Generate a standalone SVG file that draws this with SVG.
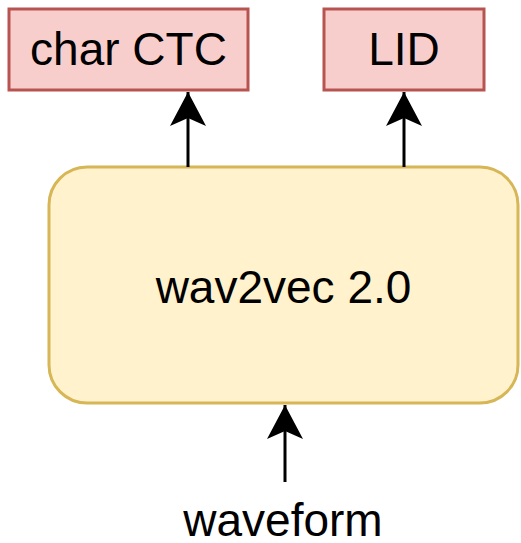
<svg xmlns="http://www.w3.org/2000/svg" width="521" height="543" viewBox="0 0 521 543">
  <style>
    .out rect { fill: #f8cecc; stroke: #b85450; stroke-width: 3; }
    .main rect { fill: #fff2cc; stroke: #d6b656; stroke-width: 3; }
    text { font-family: "Liberation Sans", Arial, Helvetica, sans-serif; font-size: 46px; fill: #000; text-anchor: middle; }
    .edge { stroke: #000; stroke-width: 3; fill: none; marker-end: url(#arrow); }
  </style>
  <defs>
    <marker id="arrow" markerUnits="userSpaceOnUse" viewBox="-36 -20 40 40" markerWidth="40" markerHeight="40" refX="0" refY="0" orient="auto" overflow="visible">
      <path d="M0,0 L-34,-18 L-26,0 L-34,18 Z" fill="#000" stroke="none"/>
    </marker>
  </defs>
  <g id="char-ctc" class="out">
    <rect x="9" y="9" width="239" height="81"/>
    <text x="128.5" y="65">char CTC</text>
  </g>
  <g id="lid" class="out">
    <rect x="324" y="9" width="160" height="81"/>
    <text x="404" y="65">LID</text>
  </g>
  <g id="wav2vec" class="main">
    <rect x="49" y="167" width="469" height="236" rx="38" ry="38"/>
    <text x="283.5" y="303">wav2vec 2.0</text>
  </g>
  <g id="waveform">
    <text x="283" y="536">waveform</text>
  </g>
  <g id="connectors">
    <line class="edge" x1="188" y1="167" x2="188" y2="92"/>
    <line class="edge" x1="404" y1="167" x2="404" y2="92"/>
    <line class="edge" x1="285" y1="482" x2="285" y2="405"/>
  </g>
</svg>
